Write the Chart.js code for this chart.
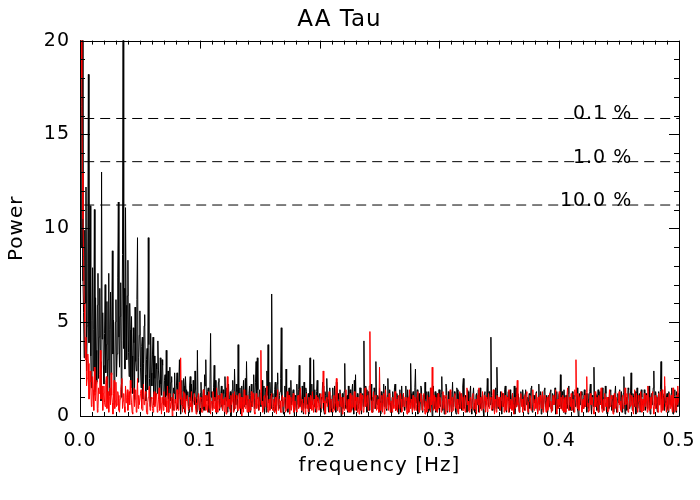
<!DOCTYPE html>
<html>
<head>
<meta charset="utf-8">
<title>AA Tau</title>
<script src="https://cdn.jsdelivr.net/npm/chart.js@4.4.0/dist/chart.umd.min.js"></script>
<style>
  html, body { margin: 0; padding: 0; background: #fff; }
  #wrap { width: 700px; height: 500px; }
</style>
</head>
<body>
<div id="wrap"><canvas id="power-chart" width="700" height="500"></canvas></div>
<script>
// frequency grid step [Hz]; value i sits at i * freqStep
const freqStep = 0.0005;

// power of the first periodogram (black), one row = 0.01 Hz
const blackPower = [
  22.0, 14.0, 9.0, 16.5, 21.0, 7.2, 5.5, 3.1, 9.9, 6.0, 12.2, 2.4, 4.8, 8.1, 18.2, 3.9, 6.5, 11.2, 3.2, 1.5,
  5.1, 7.9, 2.4, 4.6, 11.0, 1.3, 6.3, 3.5, 1.8, 5.9, 7.6, 2.0, 4.2, 6.8, 2.9, 0.8, 13.0, 4.1, 5.5, 2.7,
  1.7, 4.4, 7.0, 2.3, 3.8, 6.1, 0.9, 3.0, 7.6, 1.1, 4.6, 6.6, 2.2, 4.9, 8.8, 3.3, 5.1, 0.6, 1.4, 5.0,
  6.2, 2.1, 3.3, 7.4, 11.4, 4.2, 2.6, 5.3, 7.1, 1.0, 4.0, 8.6, 24.0, 3.6, 6.8, 2.5, 11.1, 5.9, 3.0, 6.4,
  8.3, 3.4, 2.1, 6.0, 4.6, 1.5, 5.3, 3.2, 1.2, 4.7, 3.9, 0.7, 5.8, 2.9, 2.4, 6.2, 9.5, 1.8, 3.1, 4.3,
  5.6, 2.6, 1.5, 3.7, 4.2, 0.9, 2.8, 4.8, 5.4, 2.2, 0.8, 3.0, 3.6, 1.4, 9.5, 3.8, 2.0, 0.5, 4.4, 2.3,
  1.6, 3.3, 4.2, 0.6, 3.2, 2.0, 0.7, 2.8, 2.5, 1.2, 4.0, 2.4, 1.9, 0.4, 3.1, 1.7, 1.1, 3.0, 2.7, 0.9,
  0.6, 1.9, 2.2, 0.5, 3.5, 1.1, 1.4, 2.4, 0.2, 1.5, 2.6, 0.8, 1.8, 2.1, 0.9, 0.3, 1.5, 1.2, 2.3, 0.7,
  0.7, 1.6, 2.3, 0.4, 1.2, 1.8, 3.0, 0.9, 0.1, 1.3, 1.9, 0.6, 0.4, 2.0, 1.6, 0.2, 2.1, 1.4, 0.8, 1.0,
  1.3, 0.5, 0.2, 1.6, 2.1, 0.8, 1.7, 0.3, 0.3, 1.9, 1.2, 0.6, 2.4, 1.4, 0.9, 0.2, 3.5, 1.0, 1.1, 0.4,
  0.1, 1.2, 1.8, 0.7, 0.4, 1.1, 1.4, 0.3, 2.2, 1.6, 3.0, 0.9, 0.8, 1.3, 1.5, 0.2, 0.2, 1.7, 4.4, 1.0,
  1.3, 0.4, 0.6, 1.5, 2.7, 0.8, 1.9, 1.0, 0.1, 0.9, 1.1, 1.8, 2.0, 0.3, 0.7, 1.2, 1.6, 0.5, 0.3, 1.4,
  1.2, 0.6, 2.1, 1.0, 0.8, 1.5, 0.2, 0.9, 1.7, 0.4, 1.0, 1.3, 0.0, 0.7, 1.4, 1.9, 0.9, 0.3, 2.5, 1.1,
  0.6, 1.7, 1.3, 0.2, 3.8, 1.2, 0.9, 1.5, 0.1, 0.8, 1.6, 0.4, 1.1, 1.9, 0.5, 1.0, 2.0, 0.6, 2.9, 0.9,
  0.8, 0.2, 1.2, 1.6, 0.2, 1.1, 1.7, 0.5, 0.7, 1.3, 2.2, 0.4, 1.0, 1.8, 2.9, 0.9, 3.1, 1.4, 0.3, 0.8,
  1.4, 0.6, 0.5, 1.3, 1.9, 0.3, 0.9, 1.6, 0.1, 1.0, 1.5, 0.2, 2.4, 1.1, 3.8, 0.7, 0.7, 1.8, 1.2, 0.4,
  6.5, 1.2, 1.0, 0.5, 0.2, 1.4, 1.8, 0.3, 0.8, 1.7, 2.3, 0.6, 0.4, 1.1, 1.3, 2.0, 4.7, 0.8, 0.9, 0.2,
  0.1, 1.0, 1.6, 0.4, 2.5, 1.3, 0.7, 0.2, 1.1, 1.5, 0.3, 0.9, 1.9, 0.6, 0.8, 1.2, 1.4, 0.5, 0.0, 1.1,
  1.0, 0.3, 1.7, 0.9, 0.6, 1.4, 2.7, 0.5, 1.2, 0.8, 0.2, 1.6, 0.9, 0.1, 1.8, 1.0, 0.4, 1.5, 1.3, 0.6,
  0.8, 1.2, 0.1, 0.7, 3.1, 0.4, 1.1, 1.7, 0.6, 0.9, 3.0, 0.5, 1.4, 0.2, 0.3, 1.3, 1.9, 0.8, 0.7, 1.1,
  1.2, 0.4, 0.2, 1.0, 0.9, 1.8, 1.6, 0.3, 0.1, 1.3, 1.1, 0.7, 2.0, 0.9, 0.6, 0.2, 1.3, 1.5, 0.8, 0.3,
  0.2, 1.1, 1.5, 0.4, 0.7, 1.6, 1.0, 0.2, 1.8, 0.8, 0.3, 1.2, 0.9, 0.5, 1.4, 1.0, 0.0, 0.7, 1.2, 0.4,
  0.7, 1.3, 2.8, 0.6, 0.4, 1.0, 1.1, 0.2, 1.6, 0.9, 0.2, 1.4, 0.8, 0.3, 1.3, 1.7, 0.5, 0.1, 1.9, 0.8,
  2.2, 0.6, 0.3, 1.2, 1.0, 0.4, 0.7, 1.5, 1.5, 0.8, 0.1, 1.0, 1.2, 0.5, 4.0, 0.9, 0.8, 1.6, 1.4, 0.2,
  0.4, 1.3, 1.1, 0.3, 0.9, 1.2, 1.7, 0.6, 0.2, 1.0, 0.8, 1.5, 1.3, 0.4, 2.9, 0.7, 0.6, 1.1, 1.0, 0.2,
  1.5, 0.8, 0.1, 1.3, 0.9, 0.3, 1.2, 1.7, 0.5, 0.9, 1.6, 0.4, 0.3, 1.1, 2.0, 0.6, 1.1, 1.4, 0.7, 0.2,
  0.2, 1.0, 1.3, 0.5, 0.8, 1.5, 1.7, 0.3, 0.4, 1.2, 1.0, 0.6, 0.1, 0.9, 1.4, 0.2, 0.9, 1.6, 0.5, 1.1,
  1.2, 0.5, 0.3, 1.0, 1.6, 0.4, 0.8, 1.4, 0.2, 0.9, 1.1, 0.6, 2.8, 1.2, 0.7, 0.1, 1.3, 0.8, 0.4, 1.5,
  2.5, 0.7, 0.9, 1.4, 0.1, 0.8, 1.2, 0.3, 0.7, 1.6, 1.5, 0.4, 0.2, 1.1, 1.0, 0.5, 1.8, 0.9, 0.5, 1.3,
  0.8, 0.2, 1.3, 0.9, 0.3, 1.5, 1.1, 0.6, 0.0, 1.0, 1.6, 0.4, 0.9, 1.3, 0.2, 0.8, 1.2, 0.3, 0.7, 1.4,
  1.4, 0.6, 0.5, 1.2, 2.1, 0.3, 0.8, 1.1, 0.1, 0.9, 1.0, 1.7, 1.5, 0.2, 0.4, 1.3, 0.9, 0.5, 1.3, 0.8,
  0.2, 1.0, 1.8, 0.5, 0.7, 1.3, 1.1, 0.2, 0.1, 1.5, 1.4, 0.6, 0.8, 1.2, 0.4, 0.9, 1.2, 0.3, 0.9, 1.6,
  2.0, 0.4, 0.5, 1.1, 1.0, 0.6, 0.2, 1.4, 1.3, 0.3, 0.8, 1.2, 1.6, 0.5, 0.1, 0.9, 1.1, 1.5, 0.7, 0.2,
  0.3, 1.1, 1.2, 0.6, 0.9, 1.4, 0.2, 0.8, 1.5, 0.4, 0.7, 1.0, 1.1, 0.3, 0.0, 1.2, 1.3, 0.5, 0.8, 1.0,
  2.0, 0.9, 0.5, 1.3, 1.2, 0.6, 4.2, 1.1, 0.7, 0.3, 1.0, 1.4, 0.2, 0.8, 1.5, 0.4, 2.6, 1.2, 0.4, 0.9,
  0.9, 0.3, 1.3, 0.8, 0.1, 1.2, 1.1, 0.5, 0.7, 1.4, 1.6, 0.4, 0.2, 0.9, 1.0, 1.3, 0.8, 0.2, 1.4, 0.6,
  0.4, 1.0, 1.2, 0.3, 0.7, 1.6, 0.1, 0.8, 1.5, 0.5, 0.9, 1.2, 1.1, 0.3, 0.2, 1.0, 1.3, 0.7, 0.6, 1.4,
  1.0, 0.5, 0.3, 1.2, 1.4, 0.6, 0.8, 1.0, 0.1, 0.9, 1.2, 0.4, 0.9, 1.5, 1.6, 0.2, 0.3, 1.1, 1.1, 0.7,
  0.7, 1.2, 1.3, 0.4, 0.2, 1.0, 1.7, 0.6, 0.9, 1.3, 0.1, 0.8, 1.2, 0.3, 0.6, 1.4, 1.5, 0.5, 0.8, 1.1,
  0.2, 0.9, 1.1, 0.5, 0.7, 1.3, 1.4, 0.2, 0.3, 1.2, 1.0, 0.6, 0.8, 1.5, 0.1, 0.7, 1.3, 0.4, 0.6, 1.0,
  1.2, 0.5, 2.2, 1.0, 0.4, 1.3, 0.9, 0.2, 1.4, 0.8, 0.1, 1.1, 1.1, 0.4, 0.7, 1.2, 1.6, 0.6, 0.3, 1.0,
  0.9, 0.3, 1.3, 0.7, 0.2, 1.1, 1.0, 0.5, 0.7, 1.4, 1.5, 0.3, 0.0, 0.9, 1.2, 0.6, 0.8, 1.3, 1.1, 0.4,
  0.4, 1.0, 1.4, 0.5, 0.7, 1.2, 0.2, 0.8, 1.2, 0.4, 0.9, 1.3, 1.7, 0.6, 0.1, 1.1, 1.0, 0.5, 2.6, 0.9,
  0.5, 1.2, 1.1, 0.3, 0.8, 1.4, 0.2, 0.9, 1.3, 0.6, 0.7, 1.1, 1.5, 0.4, 0.3, 1.0, 0.9, 1.6, 1.2, 0.2,
  0.1, 0.8, 1.0, 0.4, 0.7, 1.3, 1.4, 0.6, 0.3, 1.0, 1.1, 0.2, 0.8, 1.2, 1.6, 0.5, 0.2, 0.9, 1.2, 0.7,
  0.9, 1.4, 0.4, 1.0, 1.3, 0.2, 0.7, 1.2, 2.1, 0.6, 0.1, 0.9, 1.0, 0.3, 0.8, 1.5, 1.4, 0.4, 0.5, 1.1,
  2.3, 0.8, 0.3, 1.2, 1.1, 0.5, 0.9, 1.3, 0.1, 0.7, 1.5, 0.4, 0.7, 1.1, 1.2, 0.2, 0.2, 1.4, 1.0, 0.6,
  0.8, 0.3, 1.4, 0.9, 0.3, 1.2, 1.1, 0.4, 0.7, 1.3, 1.6, 0.5, 0.1, 1.0, 1.2, 0.6, 0.9, 1.5, 2.4, 0.7,
  0.5, 1.3, 1.0, 0.4, 0.2, 1.1, 1.3, 0.6, 0.8, 1.4, 2.9, 0.9, 0.4, 1.2, 1.1, 0.3, 1.6, 0.8, 0.6, 1.0,
  1.2, 0.4, 0.2, 1.3, 1.0, 0.6, 0.8, 1.2, 1.5, 0.3, 0.1, 0.9, 1.1, 1.4, 0.7, 0.2, 1.3, 1.0, 0.5, 1.2,
  0.9
];

// power of the second periodogram (red), one row = 0.01 Hz
const redPower = [
  35.0, 30.0, 24.0, 18.0, 13.0, 10.5, 8.5, 6.0, 5.0, 3.0, 4.2, 1.6, 2.0, 3.3, 2.8, 0.9, 1.1, 2.4, 1.8, 0.5,
  0.6, 2.1, 1.4, 0.3, 2.6, 1.1, 0.8, 1.7, 1.9, 0.2, 0.4, 1.5, 1.2, 2.2, 3.5, 0.9, 1.0, 1.6, 0.3, 1.2,
  1.6, 0.7, 0.5, 1.8, 2.1, 0.4, 0.9, 1.3, 0.2, 1.0, 1.5, 0.6, 2.3, 1.1, 0.7, 0.1, 1.2, 1.9, 0.4, 0.8,
  1.8, 0.5, 0.6, 1.3, 1.1, 0.3, 0.2, 0.9, 1.4, 1.7, 2.0, 0.4, 0.8, 1.2, 0.5, 0.2, 1.6, 0.7, 1.0, 1.4,
  0.3, 1.0, 1.3, 0.6, 1.9, 1.2, 0.7, 0.2, 0.1, 1.1, 1.5, 0.5, 0.9, 1.4, 0.2, 0.8, 2.0, 0.4, 1.1, 0.6,
  0.6, 1.2, 1.4, 0.4, 0.3, 0.9, 1.7, 0.6, 0.8, 1.3, 1.2, 0.2, 0.1, 0.7, 1.0, 1.5, 1.6, 0.3, 0.5, 1.0,
  0.9, 0.4, 0.2, 1.1, 1.3, 0.5, 0.7, 1.2, 1.1, 0.2, 0.4, 0.9, 1.5, 0.3, 0.6, 1.0, 0.1, 0.7, 1.0, 0.3,
  1.3, 0.6, 0.5, 1.0, 0.8, 0.2, 1.6, 0.9, 0.2, 1.2, 1.1, 0.4, 0.7, 1.0, 0.0, 0.6, 1.2, 0.3, 0.6, 0.9,
  0.9, 0.3, 1.4, 0.7, 0.3, 1.1, 1.8, 0.9, 3.1, 0.6, 1.0, 0.2, 0.5, 1.3, 1.2, 0.4, 0.1, 0.9, 0.8, 1.1,
  1.1, 0.3, 0.4, 1.0, 0.7, 0.5, 1.3, 0.2, 0.2, 0.8, 0.9, 1.2, 1.0, 0.4, 0.1, 0.7, 0.6, 1.1, 1.2, 0.3,
  0.5, 1.0, 0.9, 0.2, 0.2, 0.8, 1.4, 0.5, 0.7, 1.1, 0.3, 0.6, 1.1, 0.2, 0.6, 1.3, 1.0, 0.4, 0.1, 0.7,
  0.8, 0.3, 1.3, 0.6, 0.4, 1.0, 0.7, 0.2, 1.5, 0.8, 0.2, 1.1, 0.9, 0.4, 0.5, 1.0, 1.2, 0.6, 0.3, 0.9,
  0.6, 0.2, 1.0, 0.7, 0.1, 1.2, 2.1, 0.5, 0.7, 0.9, 0.4, 0.2, 1.1, 0.6, 0.8, 1.2, 0.2, 0.5, 1.3, 0.4,
  0.5, 1.1, 0.9, 0.3, 0.3, 0.8, 1.2, 0.4, 0.6, 1.0, 0.0, 0.7, 1.0, 0.2, 1.4, 0.6, 0.4, 1.1, 0.8, 0.2,
  1.1, 0.5, 0.2, 0.9, 0.7, 0.3, 1.3, 0.8, 0.5, 1.2, 0.9, 0.2, 0.1, 0.7, 1.2, 0.4, 0.6, 1.0, 1.0, 0.3,
  0.3, 1.2, 3.5, 0.6, 0.8, 0.2, 0.4, 1.0, 1.1, 0.5, 0.6, 1.3, 1.6, 0.4, 0.2, 0.8, 0.9, 0.3, 0.5, 1.1,
  1.2, 0.4, 0.3, 0.9, 0.7, 0.2, 1.0, 0.6, 0.1, 1.1, 1.4, 0.3, 0.6, 0.9, 0.8, 0.2, 0.2, 1.0, 1.1, 0.5,
  0.5, 1.0, 0.9, 0.2, 0.3, 0.8, 1.3, 0.4, 0.7, 1.1, 0.1, 0.6, 1.0, 0.3, 0.6, 0.9, 1.2, 0.2, 0.4, 0.8,
  0.8, 0.3, 0.2, 1.0, 1.1, 0.4, 0.5, 1.2, 1.5, 0.6, 0.3, 0.9, 0.9, 0.2, 0.7, 1.0, 0.1, 0.6, 1.2, 0.4,
  0.6, 0.2, 1.0, 0.7, 0.4, 1.1, 0.8, 0.3, 1.3, 0.6, 0.2, 0.9, 0.7, 0.4, 1.1, 0.2, 0.5, 1.0, 0.9, 0.3,
  0.3, 0.9, 1.2, 0.4, 0.6, 1.0, 2.4, 0.7, 0.8, 0.2, 0.1, 0.9, 1.0, 0.5, 0.5, 1.1, 1.3, 0.2, 0.4, 0.8,
  0.9, 0.4, 0.2, 1.0, 1.1, 0.3, 0.7, 1.2, 2.0, 0.5, 0.3, 0.8, 0.8, 0.2, 1.2, 0.6, 0.5, 1.0, 0.1, 0.7,
  1.0, 0.3, 0.6, 1.1, 1.4, 0.5, 0.3, 0.8, 0.9, 0.2, 0.7, 1.2, 0.2, 0.6, 1.1, 0.4, 0.5, 0.9, 1.3, 0.3,
  0.4, 1.0, 0.8, 0.2, 1.0, 0.6, 0.1, 0.9, 1.2, 0.3, 0.6, 1.1, 0.9, 0.2, 0.3, 0.8, 1.5, 0.5, 0.7, 1.0,
  1.1, 0.3, 0.5, 1.6, 4.5, 0.9, 0.8, 0.2, 0.2, 1.0, 1.3, 0.4, 0.6, 1.1, 1.0, 0.3, 0.4, 0.8, 0.9, 0.2,
  2.6, 0.7, 0.3, 0.9, 1.1, 0.2, 0.7, 1.2, 0.1, 0.6, 1.4, 0.4, 0.5, 1.0, 0.9, 0.3, 1.2, 0.6, 0.2, 0.8,
  0.8, 0.2, 1.0, 0.6, 0.4, 1.1, 1.3, 0.3, 0.6, 0.9, 0.2, 1.0, 1.1, 0.4, 0.7, 1.2, 0.9, 0.2, 0.3, 0.7,
  1.2, 0.6, 0.5, 1.0, 0.8, 0.3, 0.1, 0.9, 1.0, 0.2, 1.4, 0.7, 0.4, 0.9, 0.7, 0.2, 1.1, 0.5, 0.3, 1.0,
  0.9, 0.3, 0.6, 1.1, 1.3, 0.5, 0.2, 0.7, 0.8, 1.2, 1.0, 0.3, 0.5, 0.9, 1.2, 0.4, 0.1, 0.8, 0.7, 0.2,
  1.1, 0.5, 0.4, 1.0, 0.9, 0.2, 1.5, 0.6, 2.6, 0.8, 0.3, 1.1, 0.8, 0.3, 1.0, 0.5, 0.2, 0.9, 1.2, 0.4,
  0.6, 1.0, 0.9, 0.2, 0.3, 0.8, 1.3, 0.4, 0.7, 1.1, 0.1, 0.6, 1.1, 0.3, 0.5, 0.9, 0.8, 0.2, 1.4, 0.6,
  0.2, 0.8, 1.0, 0.3, 0.6, 1.1, 1.2, 0.5, 0.4, 0.9, 0.9, 0.2, 0.1, 0.7, 1.3, 0.4, 0.7, 1.2, 1.0, 0.3,
  0.3, 0.9, 1.1, 0.2, 0.5, 1.0, 1.5, 0.6, 0.8, 0.3, 0.2, 0.9, 1.0, 0.4, 0.6, 1.1, 1.2, 0.3, 0.4, 0.8,
  0.9, 0.4, 0.1, 0.8, 1.1, 0.6, 1.5, 0.2, 0.7, 1.0, 0.3, 0.8, 1.3, 0.4, 0.5, 1.1, 0.8, 0.2, 1.0, 0.6,
  0.2, 0.7, 1.2, 0.4, 0.6, 1.0, 0.9, 0.3, 0.4, 1.1, 1.4, 0.5, 0.1, 0.9, 0.8, 0.2, 1.1, 0.7, 0.5, 1.0,
  1.0, 0.4, 0.3, 1.0, 1.3, 0.5, 0.7, 1.2, 0.2, 0.8, 1.1, 0.3, 0.6, 1.0, 0.9, 0.2, 1.4, 0.6, 0.4, 0.9,
  0.8, 0.3, 1.2, 0.6, 0.1, 0.9, 1.0, 0.4, 0.5, 1.1, 1.9, 0.6, 0.7, 0.2, 0.3, 1.0, 1.2, 0.5, 0.9, 0.2,
  0.4, 0.9, 1.1, 0.3, 0.6, 1.2, 1.3, 0.4, 0.2, 0.7, 0.8, 1.1, 1.0, 0.3, 0.5, 0.9, 1.4, 0.6, 0.3, 0.8,
  0.9, 0.4, 1.2, 0.7, 0.1, 1.0, 0.7, 0.3, 1.1, 0.8, 0.4, 0.9, 1.3, 0.2, 0.6, 1.1, 0.9, 0.5, 0.2, 0.7,
  1.0, 0.3, 0.5, 1.1, 1.2, 0.4, 0.8, 0.2, 0.3, 0.9, 1.1, 0.6, 0.7, 1.0, 1.4, 0.5, 0.1, 0.8, 0.9, 0.4,
  1.3, 0.6, 0.4, 1.0, 0.8, 0.3, 1.1, 0.7, 0.2, 0.9, 1.0, 0.2, 0.6, 1.1, 1.5, 0.4, 0.3, 1.0, 0.9, 0.5,
  1.2, 0.3, 0.5, 0.9, 0.7, 0.2, 1.4, 1.1, 3.0, 0.7, 0.4, 1.2, 1.0, 0.3, 0.8, 1.1, 1.3, 0.5, 0.2, 0.8,
  0.9, 0.4, 1.1, 0.6, 0.5, 1.3, 2.1, 0.5, 0.7, 0.2, 0.3, 0.9, 1.2, 0.6, 0.6, 1.0, 1.0, 0.3, 0.1, 0.7,
  1.3, 0.5, 0.8, 1.0, 0.4, 0.2, 1.1, 0.7, 0.6, 1.2, 1.5, 0.4, 0.2, 0.8, 0.9, 0.3, 1.2, 0.7, 0.5, 1.0,
  1.0, 0.2, 0.3, 0.9, 1.4, 0.5, 0.7, 1.1, 0.9, 0.3, 0.1, 0.8, 1.2, 0.4, 0.6, 1.0, 1.0, 0.2, 0.4, 0.9,
  1.3, 0.6, 0.8, 0.3, 0.2, 1.0, 1.1, 0.4, 0.5, 0.9, 1.5, 0.6, 0.7, 1.2, 0.9, 0.2, 0.3, 0.8, 1.2, 0.5,
  0.6, 1.1, 1.0, 0.3, 0.1, 0.7, 1.4, 0.5, 0.8, 1.2, 0.4, 0.2, 1.1, 0.8, 0.7, 0.3, 1.3, 0.9, 0.2, 0.6,
  0.9, 0.3, 1.2, 0.7, 0.5, 1.1, 0.8, 0.2, 1.6, 0.9, 0.3, 0.6, 1.0, 0.4, 0.6, 1.2, 1.3, 0.5, 0.1, 0.8,
  1.1, 0.4, 0.7, 1.0, 0.4, 0.2, 1.2, 0.6, 0.9, 1.3, 0.2, 0.8, 1.4, 0.3, 0.6, 1.0, 2.1, 0.7, 0.5, 0.2,
  1.0, 0.6, 0.3, 0.9, 1.2, 0.4, 0.8, 1.1, 0.5, 0.2, 1.5, 0.7, 0.2, 1.0, 0.9, 0.3, 1.1, 0.6, 1.6, 0.9,
  0.7
];

// false alarm probability levels
const levelLabels = ['0.1 %', '1.0 %', '10.0 %'];
const levelPower = [15.85, 13.55, 11.24];

const xTickLabels = ['0.0', '0.1', '0.2', '0.3', '0.4', '0.5'];
const yTickLabels = ['0', '5', '10', '15', '20'];

Chart.defaults.font.family = "'DejaVu Sans', sans-serif";
Chart.defaults.color = '#000';

function toPoints(values) {
  return values.map((v, i) => ({ x: i * freqStep, y: v }));
}

// spaced-out lettering like the IDL vector font
const letterSpacingPlugin = {
  id: 'letterSpacing',
  beforeLayout(chart) { chart.ctx.letterSpacing = '1px'; },
  beforeDraw(chart) { chart.ctx.letterSpacing = '1px'; }
};

// box round the plot with inward ticks on all four sides, plus level labels
const framePlugin = {
  id: 'frame',
  afterDatasetsDraw(chart) {
    const { ctx, chartArea: a, scales: { x, y } } = chart;
    ctx.save();
    ctx.strokeStyle = '#000';
    ctx.lineWidth = 1;
    ctx.beginPath();
    ctx.rect(Math.round(a.left) + 0.5, Math.round(a.top) + 0.5,
      Math.round(a.right - a.left), Math.round(a.bottom - a.top));
    for (let i = 0; i <= 50; i++) {
      const px = Math.round(x.getPixelForValue(i / 100)) + 0.5;
      const len = i % 10 === 0 ? 8 : 4;
      ctx.moveTo(px, a.bottom); ctx.lineTo(px, a.bottom - len);
      ctx.moveTo(px, a.top); ctx.lineTo(px, a.top + len);
    }
    for (let j = 0; j <= 20; j++) {
      const py = Math.round(y.getPixelForValue(j)) + 0.5;
      const len = j % 5 === 0 ? 10 : 5;
      ctx.moveTo(a.left, py); ctx.lineTo(a.left + len, py);
      ctx.moveTo(a.right, py); ctx.lineTo(a.right - len, py);
    }
    ctx.stroke();

    ctx.font = "19px 'DejaVu Sans', sans-serif";
    ctx.fillStyle = '#000';
    ctx.textAlign = 'right';
    ctx.textBaseline = 'alphabetic';
    levelPower.forEach((p, k) => {
      ctx.fillText(levelLabels[k], x.getPixelForValue(0.461), y.getPixelForValue(p) + 1);
    });
    ctx.restore();
  }
};

const levelSets = levelPower.map(p => ({
  data: [{ x: 0.0035, y: p }, { x: 0.5, y: p }],
  borderColor: '#000',
  borderWidth: 1,
  borderDash: [10, 6],
  pointRadius: 0,
  order: -1
}));

new Chart(document.getElementById('power-chart'), {
  type: 'line',
  data: {
    datasets: [
      {
        label: 'red',
        data: toPoints(redPower),
        borderColor: '#ff0000',
        borderWidth: 1,
        borderJoinStyle: 'bevel',
        pointRadius: 0,
        tension: 0,
        order: 0
      },
      {
        label: 'black',
        data: toPoints(blackPower),
        borderColor: '#000000',
        borderWidth: 1,
        borderJoinStyle: 'bevel',
        pointRadius: 0,
        tension: 0,
        order: 1
      },
      ...levelSets
    ]
  },
  options: {
    responsive: false,
    animation: false,
    events: [],
    layout: { padding: { right: 21 } },
    plugins: {
      legend: { display: false },
      tooltip: { enabled: false },
      title: {
        display: true,
        text: 'AA Tau',
        font: { size: 23, weight: 'normal' },
        color: '#000',
        padding: { top: 6, bottom: 7 }
      }
    },
    scales: {
      x: {
        type: 'linear',
        min: 0,
        max: 0.5,
        grid: { display: false, drawTicks: false },
        border: { display: false },
        ticks: {
          stepSize: 0.1,
          padding: 14,
          maxRotation: 0,
          font: { size: 19 },
          callback: (v) => xTickLabels[Math.round(v * 10)]
        },
        title: {
          display: true,
          text: 'frequency [Hz]',
          font: { size: 20 },
          padding: { top: 0, bottom: 22 }
        },
        afterFit: (s) => {
          s.height = 84;
          s.paddingLeft = 0;
          s.paddingRight = 0;
        }
      },
      y: {
        min: 0,
        max: 20,
        grid: { display: false, drawTicks: false },
        border: { display: false },
        ticks: {
          stepSize: 5,
          padding: 10,
          font: { size: 19 },
          callback: (v) => yTickLabels[Math.round(v / 5)]
        },
        title: {
          display: true,
          text: 'Power',
          font: { size: 20 },
          padding: { top: 5, bottom: 0 }
        },
        afterFit: (s) => { s.width = 80; }
      }
    }
  },
  plugins: [letterSpacingPlugin, framePlugin]
});
</script>
</body>
</html>
